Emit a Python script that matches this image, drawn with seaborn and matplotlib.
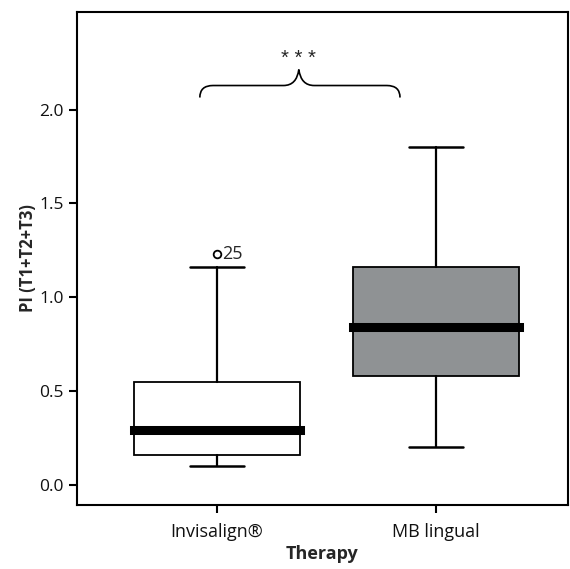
import matplotlib
matplotlib.use('Agg')
import matplotlib.pyplot as plt
import seaborn as sns
from matplotlib.path import Path
from matplotlib.patches import PathPatch

# five-number summaries
therapy = ['Invisalign®', 'MB lingual']
whisk_lo = [0.10, 0.20]
q1 = [0.16, 0.58]
median = [0.29, 0.84]
q3 = [0.55, 1.16]
whisk_hi = [1.16, 1.80]
outliers = [[1.23], []]
outlier_ids = [['25'], []]
box_colors = ['white', '#8f9294']

sns.set_theme(style='ticks')
plt.rcParams['font.family'] = ['Open Sans', 'DejaVu Sans']

fig = plt.figure(figsize=(5.70, 5.69), dpi=100)
ax = fig.add_axes([0.135, 0.1125, 0.8615, 0.8665])

stats = []
for i, name in enumerate(therapy):
    stats.append({'label': name, 'whislo': whisk_lo[i], 'q1': q1[i], 'med': median[i],
                  'q3': q3[i], 'whishi': whisk_hi[i], 'fliers': outliers[i]})

bp = ax.bxp(stats, positions=[0, 1], widths=0.76, capwidths=0.25, patch_artist=True,
            boxprops=dict(linewidth=1.3, edgecolor='black'),
            whiskerprops=dict(linewidth=1.6, color='black'),
            capprops=dict(linewidth=1.8, color='black'),
            medianprops=dict(linewidth=6.5, color='black', solid_capstyle='projecting'),
            flierprops=dict(marker='o', markersize=5.5, markerfacecolor='white',
                            markeredgecolor='black', markeredgewidth=1.3))
for patch, c in zip(bp['boxes'], box_colors):
    patch.set_facecolor(c)

for i, ids in enumerate(outlier_ids):
    for val, lab in zip(outliers[i], ids):
        ax.annotate(lab, (i, val), xytext=(3.5, 0), textcoords='offset points',
                    va='center', ha='left', fontsize=13)

# significance brace
x0, x1, xm = -0.078, 0.836, 0.374
yb, yh, yt = 2.064, 2.128, 2.213
dx = 0.06
verts = [(x0, yb), (x0, yh), (x0 + dx, yh),
         (xm - 0.07, yh), (xm - 0.01, yh), (xm, yt),
         (xm + 0.01, yh), (xm + 0.07, yh),
         (x1 - dx, yh), (x1, yh), (x1, yb)]
codes = [Path.MOVETO, Path.CURVE3, Path.CURVE3,
         Path.LINETO, Path.CURVE3, Path.CURVE3,
         Path.CURVE3, Path.CURVE3,
         Path.LINETO, Path.CURVE3, Path.CURVE3]
ax.add_patch(PathPatch(Path(verts, codes), fill=False, lw=1.2, color='black'))
ax.text(xm, 2.222, '* * *', ha='center', va='bottom', fontsize=14.5, family='Liberation Sans')

ax.set_xlim(-0.639, 1.603)
ax.set_ylim(-0.107, 2.52)
ax.set_yticks([0.0, 0.5, 1.0, 1.5, 2.0])
ax.set_yticklabels(['0.0', '0.5', '1.0', '1.5', '2.0'])
ax.set_xticks([0, 1])
ax.set_xticklabels(therapy)
ax.tick_params(axis='both', length=6, width=1.5, labelsize=13, color='black', labelcolor='#111111')
ax.tick_params(axis='y', labelsize=12.5)
ax.tick_params(axis='x', pad=7)
for s in ax.spines.values():
    s.set_linewidth(1.5)
    s.set_color('black')

ax.set_xlabel('Therapy', fontsize=13, fontweight='bold', labelpad=3)
ax.set_ylabel('PI (T1+T2+T3)', fontsize=12, fontweight='bold', labelpad=1.5)

fig.savefig('out.png', dpi=100)
